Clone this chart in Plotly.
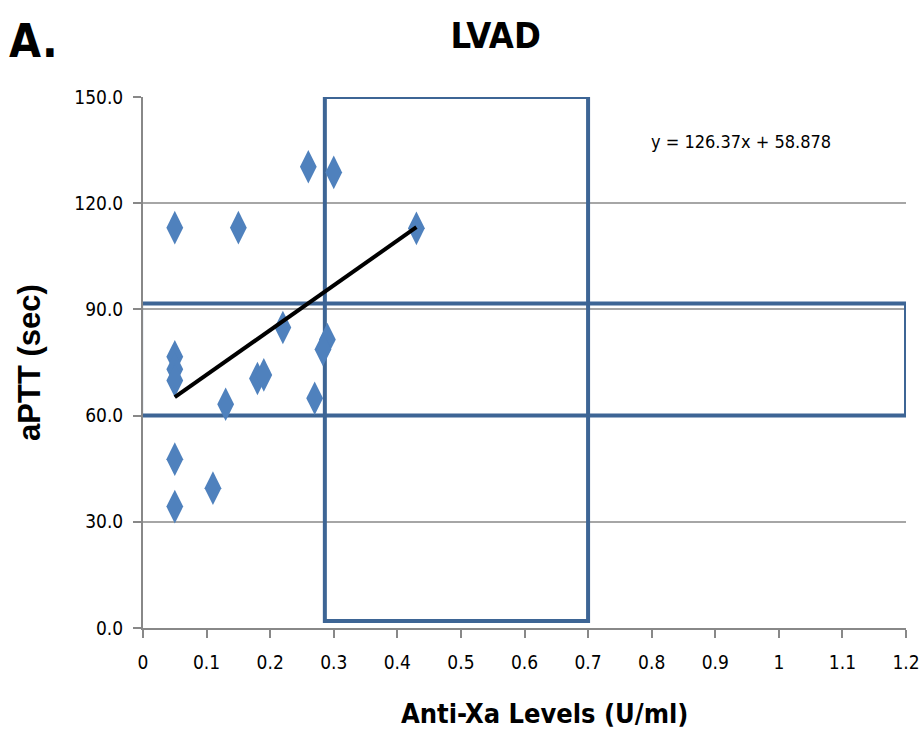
import plotly.graph_objects as go

# data
anti_xa = [0.05, 0.15, 0.26, 0.30, 0.43, 0.22, 0.29, 0.283, 0.05, 0.05, 0.05, 0.18, 0.19, 0.27, 0.13, 0.05, 0.05, 0.11]
aptt = [113.1, 113.1, 130.3, 128.7, 112.9, 84.9, 81.5, 78.7, 76.6, 73.1, 69.9, 70.5, 71.5, 64.9, 63.2, 47.7, 34.3, 39.5]

slope = 126.37
intercept = 58.878
fit_x = [min(anti_xa), max(anti_xa)]
fit_y = [slope * v + intercept for v in fit_x]

# target ranges (boxes)
xa_box = [0.286, 0.70, 2.0, 150.0]      # x0, x1, y0, y1
aptt_box = [-0.003, 1.2, 60.0, 91.7]

x_ticks = [0, 0.1, 0.2, 0.3, 0.4, 0.5, 0.6, 0.7, 0.8, 0.9, 1, 1.1, 1.2]
x_labels = ["0", "0.1", "0.2", "0.3", "0.4", "0.5", "0.6", "0.7", "0.8", "0.9", "1", "1.1", "1.2"]
y_ticks = [0, 30, 60, 90, 120, 150]
y_labels = ["0.0", "30.0", "60.0", "90.0", "120.0", "150.0"]

narrow = "DejaVu Sans Condensed, Liberation Sans, Arial"
box_color = "#3D6595"

fig = go.Figure()
fig.add_trace(go.Scatter(
    x=anti_xa, y=aptt, mode="markers",
    marker=dict(symbol="diamond-tall", size=24, color="#4F81BD", line=dict(width=0)),
    showlegend=False, hoverinfo="x+y"))
fig.add_trace(go.Scatter(
    x=fit_x, y=fit_y, mode="lines",
    line=dict(color="black", width=4), showlegend=False))

for b in (xa_box, aptt_box):
    fig.add_shape(type="rect", xref="x", yref="y", x0=b[0], x1=b[1], y0=b[2], y1=b[3],
                  line=dict(color=box_color, width=4), fillcolor="rgba(0,0,0,0)", layer="between")

fig.add_annotation(x=0.0, y=1.05, xref="paper", yref="paper", xanchor="left", yanchor="bottom",
                   text="<b>A.</b>", showarrow=False,
                   font=dict(family=narrow, size=46, color="black"), xshift=-136)
fig.add_annotation(x=0.94, y=137.3, xref="x", yref="y", xanchor="center", yanchor="middle",
                   text=f"y = {slope}x + {intercept}", showarrow=False,
                   font=dict(family=narrow, size=18, color="black"))
fig.add_annotation(x=0.5256, y=-0.161, xref="paper", yref="paper", xanchor="center", yanchor="middle",
                   text="<b>Anti-Xa Levels (U/ml)</b>", showarrow=False,
                   font=dict(family=narrow, size=27, color="black"))

fig.update_layout(
    width=923, height=750,
    margin=dict(l=143, r=17, t=97, b=122),
    paper_bgcolor="white", plot_bgcolor="white",
    title=dict(text="<b>LVAD</b>", x=0.537, xanchor="center", y=0.953, yanchor="middle",
               font=dict(family=narrow, size=36, color="black")),
    xaxis=dict(range=[0, 1.2], tickvals=x_ticks, ticktext=x_labels, showgrid=False,
               showline=True, linecolor="#888888", linewidth=2, ticks="outside", ticklen=8,
               tickcolor="#888888", tickwidth=2, zeroline=False, ticklabelstandoff=8,
               automargin=False, ticklabeloverflow="allow",
               tickfont=dict(family=narrow, size=19, color="black")),
    yaxis=dict(range=[0, 150], tickvals=y_ticks, ticktext=y_labels, showgrid=True,
               gridcolor="#A6A6A6", gridwidth=2,
               showline=True, linecolor="#888888", linewidth=2, ticks="outside", ticklen=8,
               tickcolor="#888888", tickwidth=2, zeroline=False, ticklabelstandoff=6,
               automargin=False,
               tickfont=dict(family=narrow, size=19, color="black"),
               title=dict(text="<b>aPTT (sec)</b>", standoff=24,
                          font=dict(family="Liberation Sans, Arial", size=31, color="black"))),
)

fig.write_html("out.html")
